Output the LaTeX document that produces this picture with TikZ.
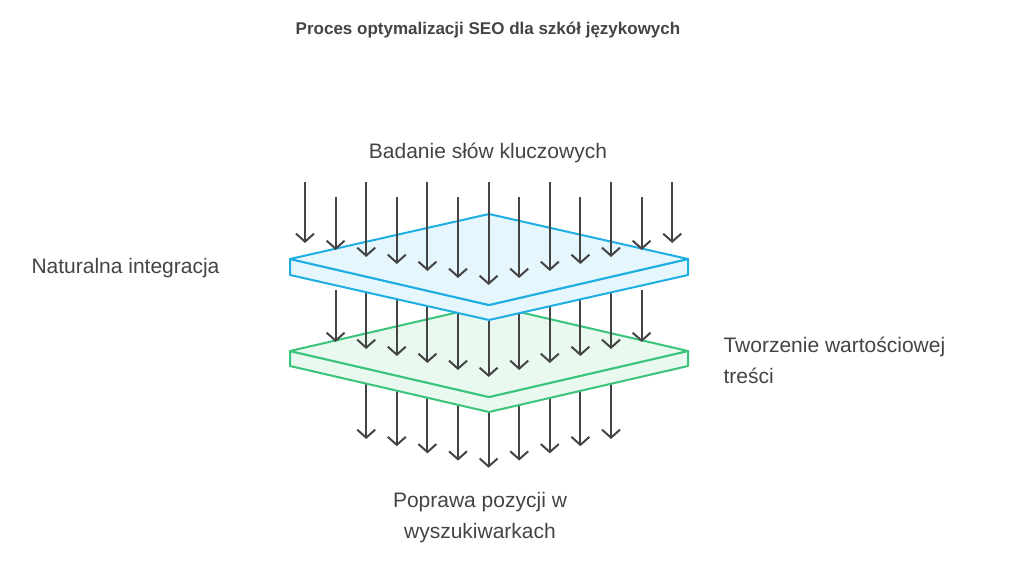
\documentclass[tikz,border=0pt]{standalone}
\usepackage{fontspec}
\setmainfont{Liberation Sans}
\usetikzlibrary{arrows.meta}
\definecolor{ccgrey}{RGB}{68,68,68}
\definecolor{ccblue}{RGB}{30,174,228}
\definecolor{ccbluefill}{RGB}{229,247,253}
\definecolor{ccgreen}{RGB}{58,196,122}
\definecolor{ccgreenfill}{RGB}{233,249,240}
\tikzset{
  flow/.style={draw=ccgrey, line width=2pt, -{Straight Barb[length=8pt,width=18pt,line width=2pt]}},
  label/.style={text=ccgrey, font=\fontsize{21}{31}\selectfont, align=left},
}
\begin{document}
\begin{tikzpicture}[x=1pt,y=-1pt]
  \useasboundingbox (0,0) rectangle (1024,565);

  % Title
  \node[text=ccgrey, font=\bfseries\fontsize{17}{20}\selectfont] (title) at (488,30) {Proces optymalizacji SEO dla szkół językowych};

  % Bottom flow
  \foreach \i in {2,...,10} {
    \pgfmathsetmacro{\d}{min(\i,12-\i)}
    \draw[flow] ({305+30.6*\i},380) -- ({305+30.6*\i},{439+7.2*(\d-2)});
  }

  % Green plate
  \filldraw[draw=ccgreen, fill=ccgreenfill, line width=2pt, line join=round]
    (290,351) -- (489,397) -- (688,351) -- (688,366) -- (489,412) -- (290,366) -- cycle;
  \filldraw[draw=ccgreen, fill=ccgreenfill, line width=2pt, line join=round]
    (290,351) -- (489,305) -- (688,351) -- (489,397) -- cycle;

  % Middle flow
  \foreach \i in {1,...,11} {
    \pgfmathsetmacro{\d}{min(\i,12-\i)}
    \draw[flow] ({305+30.6*\i},290) -- ({305+30.6*\i},{342+7*(\d-1)});
  }

  % Blue plate
  \filldraw[draw=ccblue, fill=ccbluefill, line width=2pt, line join=round]
    (290,259) -- (489,305) -- (688,259) -- (688,275) -- (489,320) -- (290,275) -- cycle;
  \filldraw[draw=ccblue, fill=ccbluefill, line width=2pt, line join=round]
    (290,259) -- (489,214) -- (688,259) -- (489,305) -- cycle;

  % Top flow
  \foreach \i in {0,...,12} {
    \pgfmathsetmacro{\d}{min(\i,12-\i)}
    \pgfmathsetmacro{\s}{isodd(\i) ? 197 : 182}
    \draw[flow] ({305+30.6*\i},\s) -- ({305+30.6*\i},{243+7*\d});
  }

  % Labels
  \node[label] (keywords) at (488,153) {Badanie słów kluczowych};
  \node[label, anchor=west] (integration) at (28,268) {Naturalna integracja};
  \node[label, anchor=west] (content) at (720,360) {Tworzenie wartościowej\\treści};
  \node[label, align=center] (ranking) at (480,518) {Poprawa pozycji w\\wyszukiwarkach};
\end{tikzpicture}
\end{document}
